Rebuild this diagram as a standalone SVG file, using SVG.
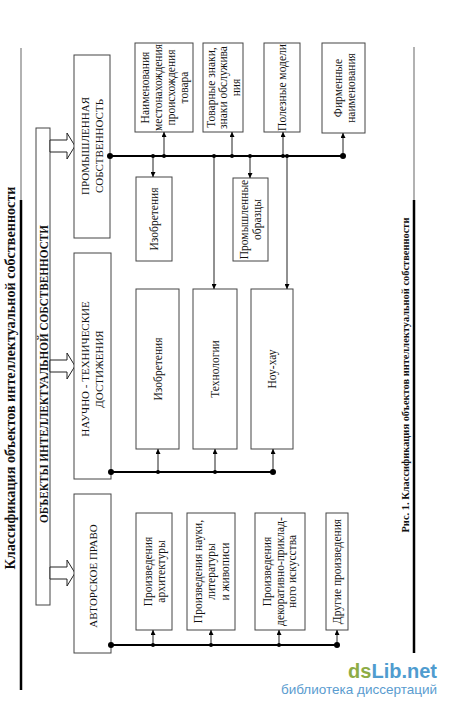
<svg xmlns="http://www.w3.org/2000/svg" width="450" height="709" viewBox="0 0 450 709">
<style>
.box{fill:#fff;stroke:#444;stroke-width:1}
.t{font-family:"Liberation Serif","Times New Roman",serif;font-size:11.5px;fill:#111;text-anchor:middle}
.h{font-family:"Liberation Serif","Times New Roman",serif;font-size:11px;fill:#111;text-anchor:middle}
.b{font-family:"Liberation Serif","Times New Roman",serif;font-weight:bold;fill:#111;text-anchor:middle}
.bus{stroke:#000;stroke-width:2;fill:none}
.br{stroke:#222;stroke-width:1;fill:none}
.dot{fill:#000}
.blk{fill:#fff;stroke:#222;stroke-width:1}
</style>
<defs>
<marker id="ah" viewBox="0 0 10 10" refX="10" refY="5" markerWidth="5" markerHeight="5" orient="auto">
<path d="M0,0 L10,5 L0,10 Z" fill="#000"/>
</marker>
</defs>
<rect width="450" height="709" fill="#fff"/>

<!-- frame lines and titles -->
<line x1="21" y1="48" x2="21" y2="200" stroke="#999" stroke-width="1.5"/>
<line x1="21" y1="200" x2="21" y2="690" stroke="#000" stroke-width="2.5"/>
<line x1="414" y1="47" x2="414" y2="200" stroke="#999" stroke-width="1.5"/>
<line x1="414" y1="200" x2="414" y2="653" stroke="#000" stroke-width="2.5"/>
<text class="b" font-size="14" transform="translate(10,378) rotate(-90)" y="5" textLength="383" lengthAdjust="spacingAndGlyphs">Классификация объектов интеллектуальной собственности</text>
<text class="b" font-size="10.5" transform="translate(405,375) rotate(-90)" y="4" textLength="315" lengthAdjust="spacingAndGlyphs">Рис. 1. Классификация объектов интеллектуальной собственности</text>

<g id="root">
<rect class="box" x="36" y="128" width="14" height="477"/>
<text class="b" font-size="12" transform="translate(43,374) rotate(-90)" y="4.5" textLength="298" lengthAdjust="spacingAndGlyphs">ОБЪЕКТЫ ИНТЕЛЛЕКТУАЛЬНОЙ СОБСТВЕННОСТИ</text>
</g>

<g id="block-arrows">
<path class="blk" d="M50,140 H67 V133 L75,146 L67,159 V152 H50 Z"/>
<path class="blk" d="M50,360 H67 V353 L75,366 L67,379 V372 H50 Z"/>
<path class="blk" d="M50,567 H67 V560 L75,573 L67,586 V579 H50 Z"/>
</g>

<g id="prom">
<rect class="box" x="74" y="55" width="36" height="183"/>
<text class="h" transform="translate(92,146) rotate(-90)"><tspan x="0" y="-3">ПРОМЫШЛЕННАЯ</tspan><tspan x="0" y="11">СОБСТВЕННОСТЬ</tspan></text>
</g>
<g id="nauch">
<rect class="box" x="74" y="253" width="37" height="226"/>
<text class="h" transform="translate(92,369) rotate(-90)"><tspan x="0" y="-3">НАУЧНО - ТЕХНИЧЕСКИЕ</tspan><tspan x="0" y="11">ДОСТИЖЕНИЯ</tspan></text>
</g>
<g id="avtor">
<rect class="box" x="74" y="494" width="37" height="159"/>
<text class="h" transform="translate(92.5,576) rotate(-90)" y="4">АВТОРСКОЕ ПРАВО</text>
</g>

<!-- top row -->
<g id="naim">
<rect class="box" x="135" y="43" width="58" height="89"/>
<text class="t" transform="translate(164,87.5) rotate(-90)"><tspan x="0" y="-15.5">Наименования</tspan><tspan x="0" y="-2.5">местонахождения</tspan><tspan x="0" y="10.5">происхождения</tspan><tspan x="0" y="23.5">товара</tspan></text>
</g>
<g id="tovar">
<rect class="box" x="203" y="43" width="40" height="89"/>
<text class="t" transform="translate(223,87.5) rotate(-90)"><tspan x="0" y="-8.5">Товарные знаки,</tspan><tspan x="0" y="4">знаки обслужива</tspan><tspan x="0" y="16.5">ния</tspan></text>
</g>
<g id="polez">
<rect class="box" x="264" y="43" width="36" height="89"/>
<text class="t" transform="translate(282,87.5) rotate(-90)" y="4">Полезные модели</text>
</g>
<g id="firm">
<rect class="box" x="322" y="43" width="43" height="90"/>
<text class="t" transform="translate(344,88) rotate(-90)"><tspan x="0" y="-2.5">Фирменные</tspan><tspan x="0" y="10.5">наименования</tspan></text>
</g>

<!-- upper middle row -->
<g id="izobr1">
<rect class="box" x="136" y="177" width="36" height="84"/>
<text class="t" transform="translate(154,219) rotate(-90)" y="4">Изобретения</text>
</g>
<g id="promobr">
<rect class="box" x="233" y="178" width="35" height="83"/>
<text class="t" transform="translate(250.5,219.5) rotate(-90)"><tspan x="0" y="-2.5">Промышленные</tspan><tspan x="0" y="10.5">образцы</tspan></text>
</g>

<!-- lower middle row -->
<g id="izobr2">
<rect class="box" x="136" y="289" width="43" height="160"/>
<text class="t" transform="translate(157.5,369) rotate(-90)" y="4">Изобретения</text>
</g>
<g id="tehn">
<rect class="box" x="193" y="289" width="44" height="160"/>
<text class="t" transform="translate(215,369) rotate(-90)" y="4">Технологии</text>
</g>
<g id="nouhau">
<rect class="box" x="251" y="289" width="42" height="160"/>
<text class="t" transform="translate(272,369) rotate(-90)" y="4">Ноу-хау</text>
</g>

<!-- bottom row -->
<g id="arh">
<rect class="box" x="136" y="513" width="36" height="117"/>
<text class="t" transform="translate(154,571.5) rotate(-90)"><tspan x="0" y="-2.5">Произведения</tspan><tspan x="0" y="10.5">архитектуры</tspan></text>
</g>
<g id="nauki">
<rect class="box" x="187" y="513" width="48" height="117"/>
<text class="t" font-size="11" transform="translate(211,571.5) rotate(-90)"><tspan x="0" y="-9.5">Произведения науки,</tspan><tspan x="0" y="4">литературы</tspan><tspan x="0" y="17.5">и живописи</tspan></text>
</g>
<g id="dekor">
<rect class="box" x="255" y="513" width="50" height="117"/>
<text class="t" font-size="11" transform="translate(280,571.5) rotate(-90)"><tspan x="0" y="-9">Произведения</tspan><tspan x="0" y="3.5">декоративно-приклад-</tspan><tspan x="0" y="16">ного искусства</tspan></text>
</g>
<g id="drugie">
<rect class="box" x="326" y="513" width="22" height="117"/>
<text class="t" font-size="10.5" transform="translate(337,571.5) rotate(-90)" y="3.5">Другие произведения</text>
</g>

<g id="connectors">
<line class="bus" x1="110" y1="156" x2="343" y2="156"/>
<line class="bus" x1="111" y1="472" x2="273" y2="472"/>
<line class="bus" x1="111" y1="645" x2="337" y2="645"/>
<!-- bus 1 branches -->
<line class="br" x1="153" y1="156" x2="153" y2="177" marker-end="url(#ah)"/>
<line class="br" x1="164" y1="156" x2="164" y2="132" marker-end="url(#ah)"/>
<line class="br" x1="214" y1="156" x2="214" y2="289" marker-end="url(#ah)"/>
<line class="br" x1="232" y1="156" x2="232" y2="132" marker-end="url(#ah)"/>
<line class="br" x1="250" y1="156" x2="250" y2="178" marker-end="url(#ah)"/>
<line class="br" x1="283" y1="156" x2="283" y2="132" marker-end="url(#ah)"/>
<line class="br" x1="287" y1="156" x2="287" y2="289" marker-end="url(#ah)"/>
<line class="br" x1="343" y1="156" x2="343" y2="133" marker-end="url(#ah)"/>
<!-- bus 2 branches -->
<line class="br" x1="158" y1="472" x2="158" y2="449" marker-end="url(#ah)"/>
<line class="br" x1="215" y1="472" x2="215" y2="449" marker-end="url(#ah)"/>
<line class="br" x1="273" y1="472" x2="273" y2="449" marker-end="url(#ah)"/>
<!-- bus 3 branches -->
<line class="br" x1="153" y1="645" x2="153" y2="630" marker-end="url(#ah)"/>
<line class="br" x1="211" y1="645" x2="211" y2="630" marker-end="url(#ah)"/>
<line class="br" x1="279" y1="645" x2="279" y2="630" marker-end="url(#ah)"/>
<line class="br" x1="337" y1="645" x2="337" y2="630" marker-end="url(#ah)"/>
<!-- dots -->
<circle class="dot" cx="110" cy="156" r="3"/>
<circle class="dot" cx="153" cy="156" r="2"/>
<circle class="dot" cx="164" cy="156" r="2"/>
<circle class="dot" cx="214" cy="156" r="2"/>
<circle class="dot" cx="232" cy="156" r="2"/>
<circle class="dot" cx="250" cy="156" r="2"/>
<circle class="dot" cx="283" cy="156" r="2"/>
<circle class="dot" cx="287" cy="156" r="2"/>
<circle class="dot" cx="343" cy="156" r="3"/>
<circle class="dot" cx="111" cy="472" r="3"/>
<circle class="dot" cx="158" cy="472" r="2"/>
<circle class="dot" cx="215" cy="472" r="2"/>
<circle class="dot" cx="273" cy="472" r="3"/>
<circle class="dot" cx="111" cy="645" r="3"/>
<circle class="dot" cx="153" cy="645" r="2"/>
<circle class="dot" cx="211" cy="645" r="2"/>
<circle class="dot" cx="279" cy="645" r="2"/>
<circle class="dot" cx="337" cy="645" r="3"/>
</g>

<g id="watermark">
<text x="437" y="678" font-family="'Liberation Sans',Arial,sans-serif" font-weight="bold" font-size="20" text-anchor="end"><tspan fill="#8dac45">ds</tspan><tspan fill="#4f9ccf">Lib.net</tspan></text>
<text x="437" y="694" font-family="'Liberation Sans',Arial,sans-serif" font-size="13.5" fill="#5a9ccf" text-anchor="end">библиотека диссертаций</text>
</g>
</svg>
